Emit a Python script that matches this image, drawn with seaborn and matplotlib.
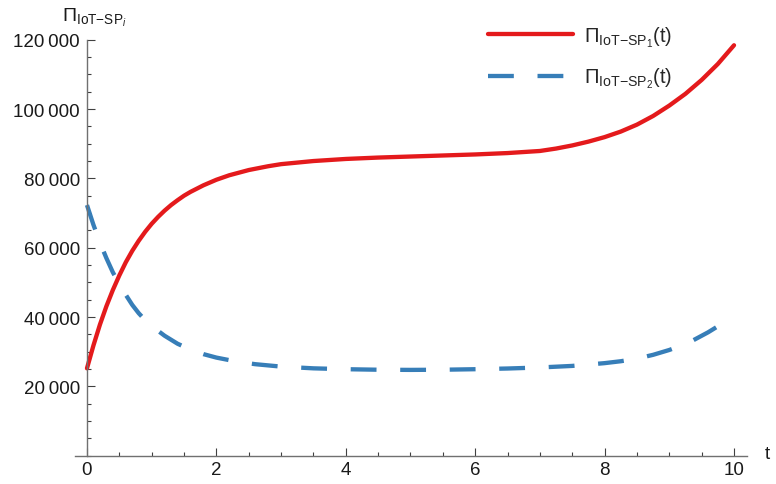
import numpy as np
import pandas as pd
import seaborn as sns
import matplotlib
matplotlib.use('Agg')
from matplotlib import pyplot as plt
from matplotlib.ticker import MultipleLocator, FixedLocator, FuncFormatter

# values
t_sp1 = [0, 0.1, 0.2, 0.3, 0.4, 0.5, 0.6, 0.7, 0.8, 0.9, 1.0, 1.1, 1.2, 1.3, 1.4, 1.5,
         1.6, 1.8, 2.0, 2.2, 2.5, 2.8, 3.0, 3.5, 4.0, 4.5, 5.0, 5.5, 6.0, 6.5, 7.0,
         7.25, 7.5, 7.75, 8.0, 8.25, 8.5, 8.75, 9.0, 9.25, 9.5, 9.75, 10]
pi_sp1 = [25200, 31800, 37800, 43100, 47800, 52000, 55800, 59100, 62000, 64600, 66900,
          68900, 70700, 72300, 73700, 75000, 76100, 78000, 79600, 80900, 82400, 83500,
          84100, 85000, 85600, 86000, 86300, 86600, 86900, 87300, 87900, 88600, 89500,
          90600, 91900, 93500, 95500, 98000, 101000, 104400, 108400, 113000, 118400]

t_sp2 = [0, 0.1, 0.2, 0.3, 0.4, 0.5, 0.6, 0.7, 0.8, 0.9, 1.0, 1.2, 1.4, 1.6, 1.8, 2.0,
         2.3, 2.6, 3.0, 3.5, 4.0, 4.5, 5.0, 5.5, 6.0, 6.5, 7.0, 7.5, 8.0, 8.25, 8.5,
         8.75, 9.0, 9.3, 9.6, 9.8, 10]
pi_sp2 = [72300, 66600, 61500, 57000, 52900, 49500, 46400, 43500, 41100, 39100, 37400,
          34600, 32300, 30600, 29300, 28300, 27200, 26400, 25700, 25200, 24950, 24800,
          24750, 24800, 24950, 25150, 25450, 25900, 26700, 27250, 28000, 29100, 30500,
          32600, 35600, 37900, 40500]

label1 = r'$\Pi_{\mathrm{IoT}{-}\mathrm{SP}_1}$(t)'
label2 = r'$\Pi_{\mathrm{IoT}{-}\mathrm{SP}_2}$(t)'

x_major = [0, 2, 4, 6, 8, 10]
y_major = [20000, 40000, 60000, 80000, 100000, 120000]

df = pd.concat([
    pd.DataFrame({'t': t_sp1, 'value': pi_sp1, 'series': label1}),
    pd.DataFrame({'t': t_sp2, 'value': pi_sp2, 'series': label2}),
])

sns.set_theme(style='white')
plt.rcParams['font.family'] = ['Liberation Sans', 'DejaVu Sans']
plt.rcParams['mathtext.fontset'] = 'custom'
plt.rcParams['mathtext.rm'] = 'Liberation Sans'
plt.rcParams['mathtext.it'] = 'Liberation Sans:italic'
plt.rcParams['mathtext.bf'] = 'Liberation Sans:bold'
plt.rcParams['lines.solid_joinstyle'] = 'round'
plt.rcParams['lines.dash_joinstyle'] = 'round'

fig = plt.figure(figsize=(7.76, 4.85), dpi=100)
ax = fig.add_axes([75 / 776, (485 - 456.7) / 485, 671.7 / 776, 416 / 485])

sns.lineplot(data=df, x='t', y='value', hue='series', style='series',
             palette=['#e41a1c', '#377eb8'], dashes=[(None, None), (6, 5.5)],
             linewidth=3.1, ax=ax, sort=False, legend=True)

ax.set_xlim(-0.185, 10.196)
ax.set_ylim(0, 120000)
ax.set_xlabel('')
ax.set_ylabel('')

for side in ['top', 'right']:
    ax.spines[side].set_visible(False)
ax.spines['left'].set_position(('data', 0))
for side in ['left', 'bottom']:
    ax.spines[side].set_color('#707070')
    ax.spines[side].set_linewidth(1.0)

ax.xaxis.set_major_locator(FixedLocator(x_major))
ax.xaxis.set_minor_locator(MultipleLocator(0.5))
ax.yaxis.set_major_locator(FixedLocator(y_major))
ax.yaxis.set_minor_locator(MultipleLocator(5000))
ax.yaxis.set_major_formatter(FuncFormatter(lambda v, p: f'{int(v):,}'.replace(',', '\u2009')))

ax.tick_params(which='both', direction='in', color='#404040', width=0.8,
               bottom=True, left=True, labelsize=13.5, labelcolor='#1a1a1a')
ax.tick_params(which='major', length=5.5)
ax.tick_params(which='minor', length=3)
ax.tick_params(axis='y', which='major', pad=5)
ax.tick_params(axis='x', which='major', pad=4)

leg = ax.legend(loc='upper left', bbox_to_anchor=(478 / 776, 1 - 15 / 485),
                bbox_transform=fig.transFigure, frameon=False, fontsize=14.5,
                handlelength=4.2, handletextpad=0.55, labelspacing=0.85, borderpad=0)

fig.text(62 / 776, 1 - 18 / 485, r'$\Pi_{\mathrm{IoT}{-}\mathrm{SP}_{i}}$', fontsize=14,
         ha='left', va='center', color='#1a1a1a')
fig.text(767 / 776, 1 - 455 / 485, 't', fontsize=13.5, ha='center', va='center',
         color='#1a1a1a')

fig.savefig('out.png', dpi=100)
